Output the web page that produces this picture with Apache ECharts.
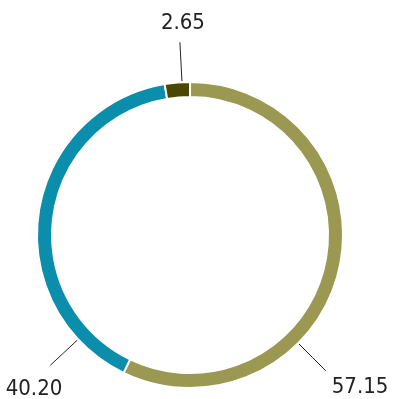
<!DOCTYPE html>
<html>
<head>
<meta charset="utf-8">
<script src="https://cdn.jsdelivr.net/npm/echarts@6/dist/echarts.min.js"></script>
<style>
html,body{margin:0;padding:0;background:#fff;}
#c{width:393px;height:399px;}
</style>
</head>
<body>
<div id="c"></div>
<script>
// Data
const categories = ['A', 'B', 'C'];
const values = [57.15, 40.20, 2.65];

// Styles / layout (not data)
const colors = ['#9a9851', '#0a8eab', '#4a4700'];
const labelAngles = [135, 227, 357];     // degrees clockwise from top, where leader starts
const leaderLen = [38, 37, 39];
const labelOffsets = [[6, 17, 'left'], [12, 24, 'right'], [3, -19, 'center']];

const chart = echarts.init(document.getElementById('c'));
const centerPct = [48.35, 58.9];
const outerR = 153, innerR = 138;

chart.setOption({
  animation: false,
  series: [{
    type: 'pie',
    center: [centerPct[0] + '%', centerPct[1] + '%'],
    radius: [innerR, outerR],
    startAngle: 90,
    clockwise: true,
    avoidLabelOverlap: false,
    itemStyle: { borderColor: '#fff', borderWidth: 2 },
    label: {
      show: true,
      position: 'outside',
      formatter: p => values[p.dataIndex].toFixed(2),
      fontFamily: '"DejaVu Sans Condensed", sans-serif',
      fontSize: 22,
      color: '#222'
    },
    labelLine: { show: true, lineStyle: { color: '#222', width: 1 } },
    labelLayout: function (params) {
      const i = params.dataIndex;
      const W = chart.getWidth(), H = chart.getHeight();
      const cx = W * centerPct[0] / 100, cy = H * centerPct[1] / 100;
      const a = labelAngles[i] * Math.PI / 180;
      const r0 = outerR + 1;
      const sx = cx + r0 * Math.sin(a), sy = cy - r0 * Math.cos(a);
      const ex = sx + leaderLen[i] * Math.sin(a), ey = sy - leaderLen[i] * Math.cos(a);
      const off = labelOffsets[i];
      return {
        x: ex + off[0],
        y: ey + off[1],
        align: off[2],
        verticalAlign: 'middle',
        labelLinePoints: [[sx, sy], [(sx + ex) / 2, (sy + ey) / 2], [ex, ey]]
      };
    },
    data: categories.map((n, i) => ({ name: n, value: values[i], itemStyle: { color: colors[i] } }))
  }]
});
</script>
</body>
</html>
